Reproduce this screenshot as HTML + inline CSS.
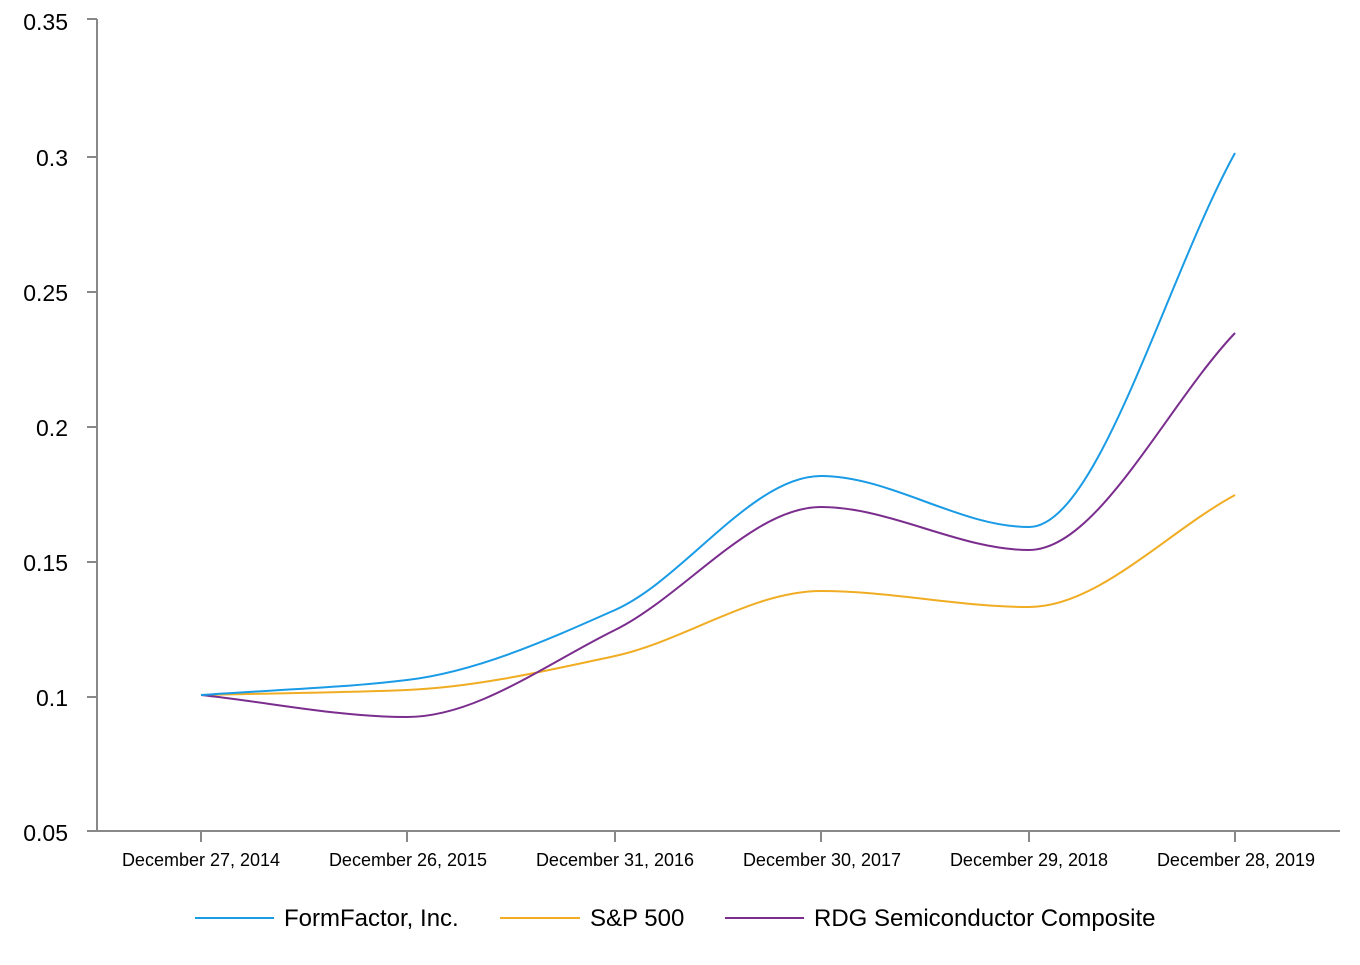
<!DOCTYPE html>
<html><head><meta charset="utf-8"><style>
html,body{margin:0;padding:0;background:#fff;}
svg text{font-family:"Liberation Sans",Arial,sans-serif;fill:#000;}
</style></head><body>
<svg id="s" width="1360" height="960" xmlns="http://www.w3.org/2000/svg">
<g stroke="#888" stroke-width="2" fill="none">
<line x1="97" y1="19" x2="97" y2="831"/>
<line x1="87" y1="831" x2="1340" y2="831"/>
<line x1="87" y1="19" x2="97" y2="19"/>
<line x1="87" y1="157" x2="97" y2="157"/>
<line x1="87" y1="292" x2="97" y2="292"/>
<line x1="87" y1="427" x2="97" y2="427"/>
<line x1="87" y1="562" x2="97" y2="562"/>
<line x1="87" y1="697" x2="97" y2="697"/>
<line x1="201" y1="831" x2="201" y2="842"/>
<line x1="407" y1="831" x2="407" y2="842"/>
<line x1="615" y1="831" x2="615" y2="842"/>
<line x1="821" y1="831" x2="821" y2="842"/>
<line x1="1029" y1="831" x2="1029" y2="842"/>
<line x1="1235" y1="831" x2="1235" y2="842"/>
</g>
<g font-size="23" text-anchor="end">
<text x="68" y="30">0.35</text>
<text x="68" y="166">0.3</text>
<text x="68" y="301">0.25</text>
<text x="68" y="436">0.2</text>
<text x="68" y="571">0.15</text>
<text x="68" y="706">0.1</text>
<text x="68" y="841">0.05</text>
</g>
<g font-size="18" text-anchor="middle">
<text x="201" y="866">December 27, 2014</text>
<text x="408" y="866">December 26, 2015</text>
<text x="615" y="866">December 31, 2016</text>
<text x="822" y="866">December 30, 2017</text>
<text x="1029" y="866">December 29, 2018</text>
<text x="1236" y="866">December 28, 2019</text>
</g>
<g stroke-width="2">
<line x1="195" y1="918" x2="274" y2="918" stroke="#1a9be6"/>
<line x1="500" y1="918" x2="580" y2="918" stroke="#f0ad23"/>
<line x1="725" y1="918" x2="804" y2="918" stroke="#7b2d8e"/>
</g>
<g font-size="24">
<text x="284" y="926">FormFactor, Inc.</text>
<text x="590" y="926">S&amp;P 500</text>
<text x="814" y="926">RDG Semiconductor Composite</text>
</g>
<g id="lines" fill="none" stroke-width="2"></g>
</svg>
<script>
var xs=[201,407,615,821,1029,1235];
var series=[
 {c:"#f0ad23",y:[695,690,656,591,607,495]},
 {c:"#7b2d8e",y:[695,717,630,507,550,333]},
 {c:"#1a9be6",y:[695,680,610,476,527,153]}
];
function mono(x,y){
 var n=x.length,d=[],m=[];
 for(var i=0;i<n-1;i++)d.push((y[i+1]-y[i])/(x[i+1]-x[i]));
 m[0]=d[0];m[n-1]=d[n-2];
 for(var i=1;i<n-1;i++){ if(d[i-1]*d[i]<=0)m[i]=0; else m[i]=2/(1/d[i-1]+1/d[i]); }
 var p="M"+x[0]+","+y[0];
 for(var i=0;i<n-1;i++){var h=(x[i+1]-x[i])/3;
  p+="C"+(x[i]+h)+","+(y[i]+m[i]*h)+" "+(x[i+1]-h)+","+(y[i+1]-m[i+1]*h)+" "+x[i+1]+","+y[i+1];}
 return p;
}
var g=document.getElementById("lines");
series.forEach(function(s){var e=document.createElementNS("http://www.w3.org/2000/svg","path");
 e.setAttribute("d",mono(xs,s.y));e.setAttribute("stroke",s.c);g.appendChild(e);});
</script>
</body></html>
